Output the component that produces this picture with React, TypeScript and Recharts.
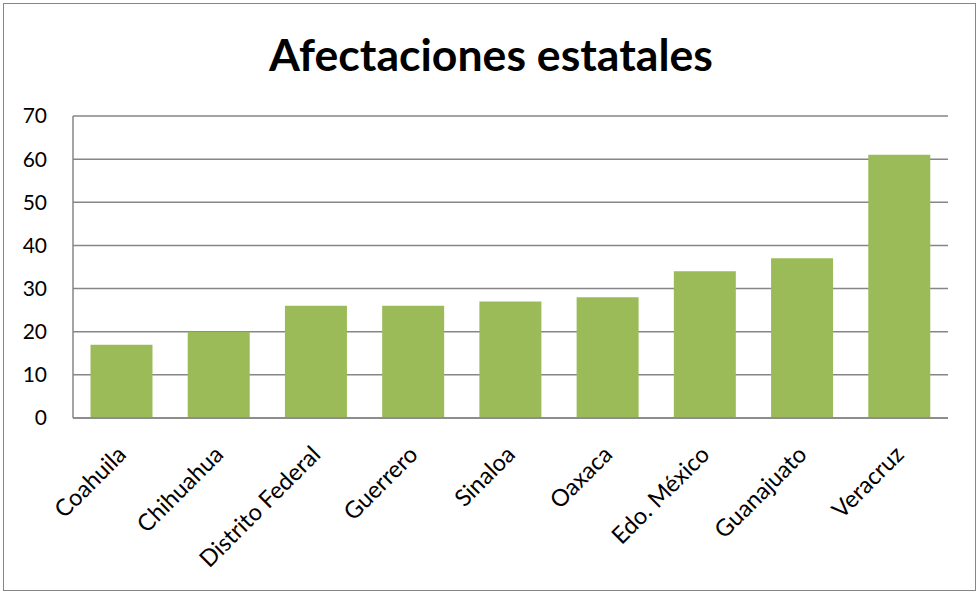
import { BarChart, Bar, XAxis, YAxis, CartesianGrid } from "recharts";

const states = [
  "Coahuila",
  "Chihuahua",
  "Distrito Federal",
  "Guerrero",
  "Sinaloa",
  "Oaxaca",
  "Edo. México",
  "Guanajuato",
  "Veracruz",
];
const counts = [17, 20, 26, 26, 27, 28, 34, 37, 61];
const yTicks = [0, 10, 20, 30, 40, 50, 60, 70];

const data = states.map((name, i) => ({ name, value: counts[i] }));

const FONT = "Lato, 'Noto Sans', sans-serif";

function StateTick({ x, y, payload }: any) {
  return (
    <g transform={`translate(${x + 6},${y + 30})`}>
      <text
        x={0}
        y={0}
        textAnchor="end"
        transform="rotate(-45)"
        fill="#000"
        fontSize={23.5}
        fontFamily={FONT}
      >
        {payload.value}
      </text>
    </g>
  );
}

export default function App() {
  return (
    <div
      style={{
        position: "fixed",
        left: 0,
        top: 0,
        width: 978,
        height: 594,
        background: "#fff",
      }}
    >
      <div
        style={{
          position: "absolute",
          left: 3,
          top: 3,
          width: 973,
          height: 588,
          border: "1.5px solid #868686",
          boxSizing: "border-box",
        }}
      />
      <div
        style={{
          position: "absolute",
          left: 0,
          top: 27,
          width: 982,
          textAlign: "center",
          fontFamily: FONT,
          fontWeight: "bold",
          fontSize: 44.6,
          lineHeight: "54px",
          color: "#000",
        }}
      >
        Afectaciones estatales
      </div>
      <BarChart
        width={978}
        height={594}
        data={data}
        margin={{ top: 116, right: 30, bottom: 0, left: 0 }}
        barCategoryGap="18%"
        style={{ position: "absolute", left: 0, top: 0 }}
      >
        <CartesianGrid vertical={false} stroke="#868686" strokeWidth={1.5} />
        <XAxis
          dataKey="name"
          interval={0}
          height={176}
          tickLine={false}
          axisLine={{ stroke: "#868686", strokeWidth: 1.5 }}
          tick={<StateTick />}
        />
        <YAxis
          width={73}
          domain={[0, 70]}
          ticks={yTicks}
          tickLine={false}
          tickMargin={20}
          axisLine={{ stroke: "#868686", strokeWidth: 1.5 }}
          tick={{ fill: "#000", fontSize: 21, fontFamily: FONT }}
        />
        <Bar dataKey="value" fill="#9BBB59" isAnimationActive={false} />
      </BarChart>
    </div>
  );
}
